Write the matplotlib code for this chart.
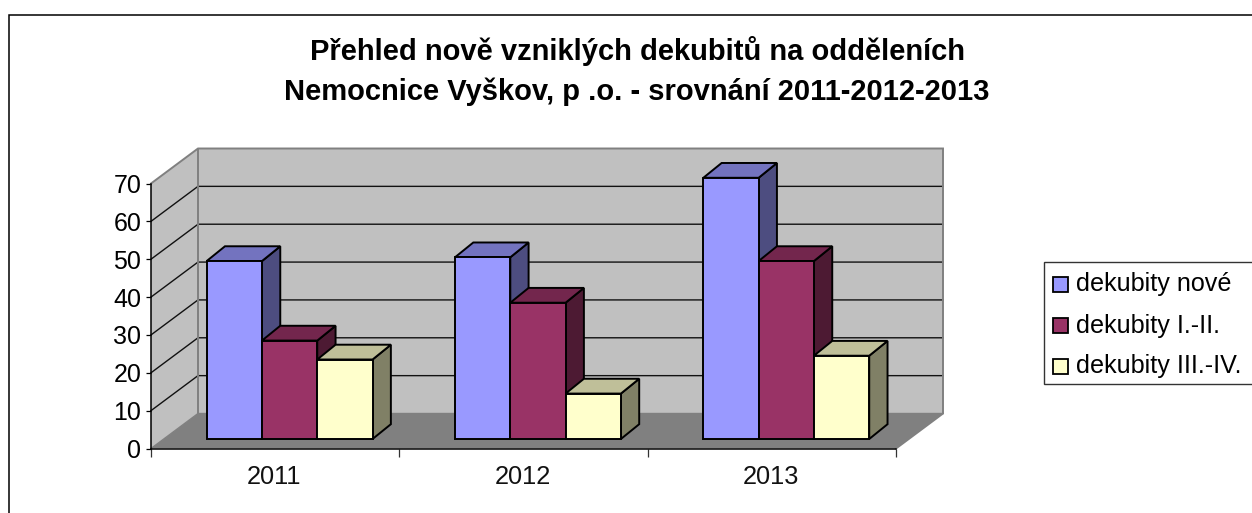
import matplotlib
matplotlib.use("Agg")
import matplotlib.pyplot as plt
from matplotlib.patches import Polygon, Rectangle

plt.rcParams['font.family'] = ['Liberation Sans', 'DejaVu Sans']

W, H = 1252, 513
years = ['2011', '2012', '2013']
series_names = ['dekubity nové', 'dekubity I.-II.', 'dekubity III.-IV.']
nove = [47, 48, 69]
stupen_1_2 = [26, 36, 47]
stupen_3_4 = [21, 12, 22]
series_values = [nove, stupen_1_2, stupen_3_4]
front_colors = ['#9999FF', '#993366', '#FFFFCC']
top_colors = ['#7373BF', '#73264D', '#BFBF99']
side_colors = ['#4D4D80', '#4D1A33', '#808066']
yticks = [0, 10, 20, 30, 40, 50, 60, 70]
title_lines = 'Přehled nově vzniklých dekubitů na odděleních\nNemocnice Vyškov, p .o. - srovnání 2011-2012-2013'

fig = plt.figure(figsize=(W / 100, H / 100), dpi=100, facecolor='white')

# page frame
bg = fig.add_axes([0, 0, 1, 1], zorder=0)
bg.set_xlim(0, W); bg.set_ylim(H, 0); bg.axis('off')
bg.plot([8.5, 8.5, W], [H, 14.5, 14.5], color='black', lw=1.1, solid_joinstyle='miter')

# front plane of the 3D chart
L, R, B, T = 151, 896, 448.5, 183.5
ax = fig.add_axes([L / W, 1 - B / H, (R - L) / W, (B - T) / H], zorder=1)
ax.set_xlim(-0.5, 2.5)
ax.set_ylim(0, 70)
ax.patch.set_visible(False)
for s in ['top', 'right']:
    ax.spines[s].set_visible(False)
for s in ['left', 'bottom']:
    ax.spines[s].set_linewidth(1.1)
ax.set_xticks([-0.5, 0.5, 1.5, 2.5], minor=False)
ax.set_xticklabels([])
ax.tick_params(axis='x', length=6, width=0.9, direction='out', color='#333333')
ax.set_yticks(yticks)
ax.set_yticklabels([str(v) for v in yticks], fontsize=18, color='black')
ax.tick_params(axis='y', length=3.5, width=0.9, pad=3.5, direction='out')

px_x = (R - L) / 3      # pixels per category
px_y = (B - T) / 70     # pixels per value unit
for i, y in enumerate(years):
    ax.text(i - 1 / px_x, -7.5, y, ha='center', va='center', fontsize=18.3, color='#111111')

DX, DY = 47 / px_x, 35 / px_y   # full depth of the box, data units
x0, x1 = -0.5, 2.5
vmax = 70

def add(points, **kw):
    ax.add_patch(Polygon(points, closed=True, clip_on=False, **kw))

# walls and floor
add([(x0, 0), (x0 + DX, DY), (x1 + DX, DY), (x1, 0)], fc='#808080', ec='none', zorder=1)
add([(x0 + DX, DY), (x1 + DX, DY), (x1 + DX, DY + vmax), (x0 + DX, DY + vmax)], fc='#C0C0C0', ec='none', zorder=1)
add([(x0, 0), (x0 + DX, DY), (x0 + DX, DY + vmax), (x0, vmax)], fc='#C0C0C0', ec='none', zorder=1)
for v in yticks[1:-1]:
    ax.plot([x0, x0 + DX, x1 + DX], [v, v + DY, v + DY], color='#111111', lw=1.0, zorder=2,
            clip_on=False, solid_joinstyle='miter')
ax.plot([x0, x0 + DX, x1 + DX, x1 + DX, x1], [vmax, vmax + DY, vmax + DY, DY, 0], color='#808080', lw=1.4,
        zorder=2, clip_on=False, solid_joinstyle='miter')
ax.plot([x0 + DX, x0 + DX], [DY, DY + vmax], color='#808080', lw=1.4, zorder=2, clip_on=False)
ax.plot([x0, x0 + DX, x1 + DX], [0, DY, DY], color='#808080', lw=1.0, zorder=2, clip_on=False)

# bars
bw = 55.3 / px_x
front_dy = 9.5 / px_y
bar_dx, bar_dy = 18.3 / px_x, 14.8 / px_y
for c in range(len(years)):
    left = c - 68.5 / px_x
    for s, vals in enumerate(series_values):
        v = vals[c]
        xa = left + s * bw
        xb = xa + bw
        yb = front_dy
        yt = front_dy + v
        z = 3 + c * 3 + s * 0.1
        kw = dict(ec='black', lw=1.4, joinstyle='miter')
        add([(xb, yb), (xb + bar_dx, yb + bar_dy), (xb + bar_dx, yt + bar_dy), (xb, yt)],
            fc=side_colors[s], zorder=z, **kw)
        add([(xa, yt), (xa + bar_dx, yt + bar_dy), (xb + bar_dx, yt + bar_dy), (xb, yt)],
            fc=top_colors[s], zorder=z, **kw)
        add([(xa, yb), (xb, yb), (xb, yt), (xa, yt)], fc=front_colors[s], zorder=z + 0.05, **kw)

fig.text(637 / W, 1 - 71 / H, title_lines, ha='center', va='center', fontsize=21, fontweight='bold',
         linespacing=1.49, color='black')

# legend
bg.add_patch(Rectangle((1043.5, 262), W - 1043.5 + 5, 121.5, fc='white', ec='#333333', lw=1.0, zorder=5))
for s, name in enumerate(series_names):
    yc = 284.5 + s * 41
    bg.add_patch(Rectangle((1052.5, yc - 7.5), 15, 15, fc=front_colors[s], ec='black', lw=1.3, zorder=6))
    bg.text(1076, yc, name, ha='left', va='center', fontsize=18.1, color='black', zorder=6)

fig.savefig('out.png', dpi=100, facecolor='white')
